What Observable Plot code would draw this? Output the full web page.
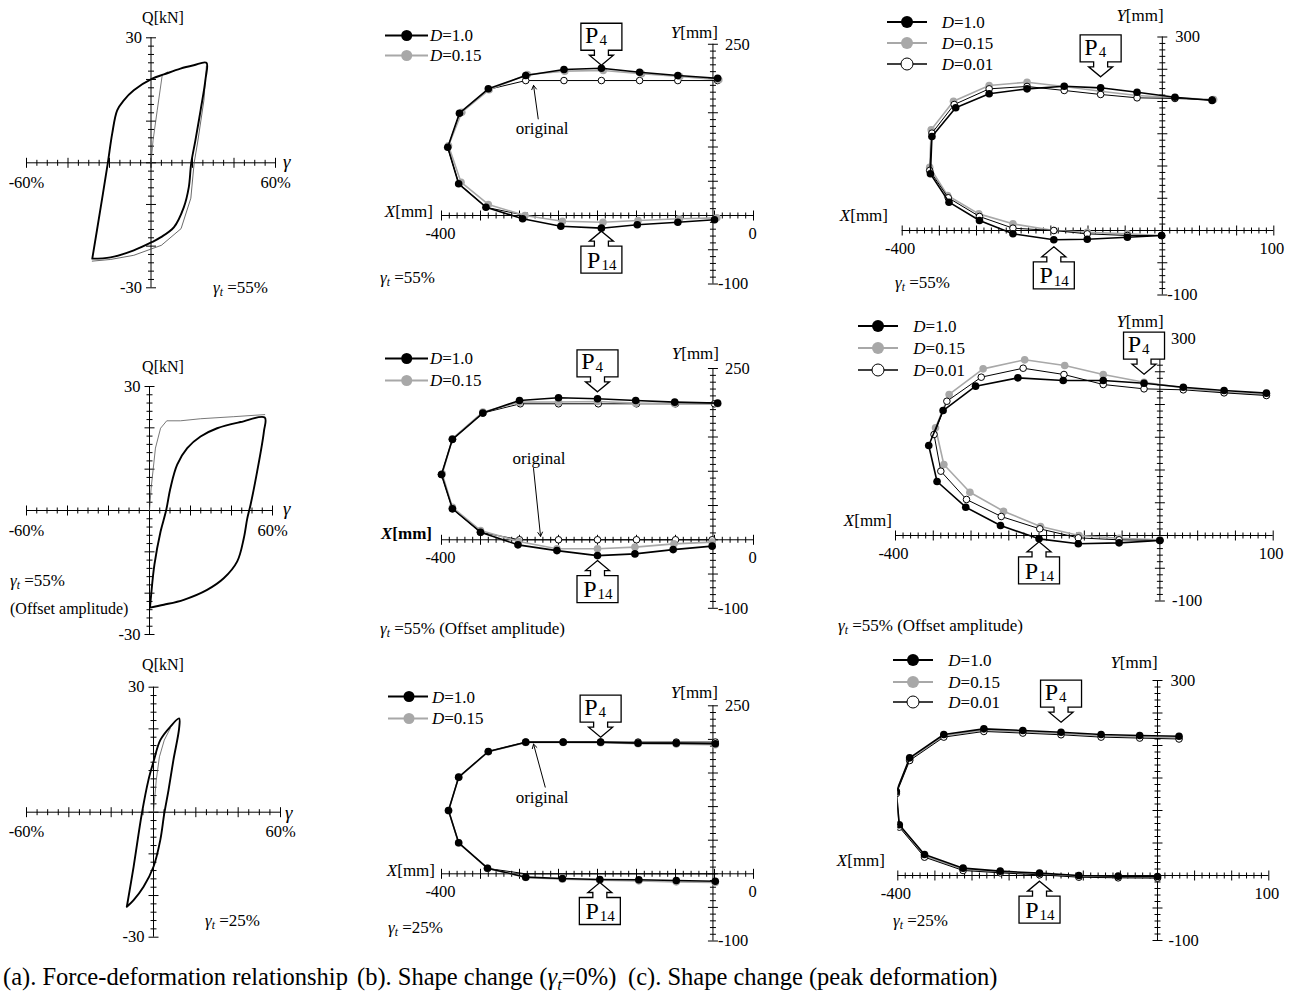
<!DOCTYPE html>
<html><head><meta charset="utf-8">
<script src="https://cdn.jsdelivr.net/npm/d3@7"></script>
<script src="https://cdn.jsdelivr.net/npm/@observablehq/plot@0.6"></script>
<style>
body{margin:0;background:#fff;}
#fig{position:relative;width:1293px;height:998px;font-family:"Liberation Serif","Times New Roman",serif;color:#000;overflow:hidden;background:#fff;}
#fig > svg.plotsvg{position:absolute;left:0;top:0;}
.lab{position:absolute;white-space:nowrap;font-size:16px;line-height:1;}
.lab sub{font-size:0.68em;vertical-align:-0.3em;line-height:0;}
</style></head><body><div id="fig"></div>
<script>
// ---------------- DATA ----------------
// (a) force-deformation loops: [shear strain %, Q kN]
const a1Loop = [[-28.3,-23.0],[-24.5,-11.5],[-20.8,0],[-18.7,7.0],[-16.3,12.6],[-13.1,15.0],[-8.3,17.4],[0.6,20.2],[6.2,21.2],[14.2,22.6],[20.6,23.4],[26.7,24.0],[26.3,20.2],[23.9,12.6],[21.4,5.4],[19.4,0],[18.2,-5.9],[15.8,-10.7],[11.0,-15.5],[4.6,-17.9],[0.6,-19.0],[-8.3,-21.0],[-19.5,-22.7],[-28.3,-23.0]];
const a1Thin = [[26.7,23.2],[25.5,15],[22.5,5],[20.8,0],[19.2,-8.5],[14.5,-15.8],[5,-19.8],[-8.3,-22.2],[-19.5,-23.2],[-28.3,-23.6]];
const a1Init = [[0,0],[1.0,5.4],[3.0,12.6],[5.4,21.0],[8,21.8]];
const a2Loop = [[0.3,-23.2],[0.8,-20.4],[2.4,-13.1],[5.4,-5.1],[8.1,0],[10.2,5.4],[13.5,11.1],[18.4,15.1],[24.9,17.9],[33.0,19.9],[44.4,21.4],[56.2,22.5],[55.8,19.1],[52.5,9.4],[49.3,1.4],[47.7,-1.9],[46.0,-6.7],[42.8,-12.3],[36.2,-16.4],[28.1,-19.2],[16.7,-21.6],[7.0,-22.8],[0.3,-23.5]];
const a2Init = [[0,0],[0.8,5.4],[2.9,15.1],[5.4,19.9],[8.4,21.7],[15.1,21.7],[24.9,22.2],[41.1,22.7],[56.2,23.2]];
const a3Loop = [[-12.6,-22.7],[-9.4,-13.1],[-5.5,-0.3],[-2.4,7.7],[0,12.1],[3.2,17.3],[7.9,20.5],[12.1,22.5],[12.1,20.1],[9.4,12.5],[7.1,5.3],[5.1,-0.3],[3.2,-6.7],[0,-13.1],[-4.7,-17.9],[-9.4,-21.1],[-12.6,-22.7]];
const a3Init = [[0,0],[1.3,7.7],[2.8,13.3],[5.1,17.3],[7.9,20.1]];

// (b) shape at gamma=0: nodes P1..P17 [X mm, Y mm]
const b1Orig = [[-46,197],[-97,197],[-146,197],[-195,197],[-243,197],[-292,197],[-340,184],[-377,148],[-392,99],[-378,47],[-343,12],[-292,0],[-243,0],[-195,0],[-146,0],[-97,0],[-46,0]];
const b1D015 = [[-44.5,198.1],[-94.5,202.9],[-143.6,206.9],[-192.7,211.7],[-242,210.7],[-290,205.8],[-339,183.5],[-374,150.8],[-391,101.8],[-375,48.6],[-340,16.1],[-293,0],[-245,-8.3],[-193,-9.8],[-148,-7.3],[-95,-4.8],[-47,-3.4]];
const b1D10 = [[-46,200.4],[-97,204.4],[-146,209.2],[-195,215],[-243,213.1],[-292,204.4],[-340,185],[-377,149.3],[-392,99.7],[-378,46.3],[-343,12.1],[-296,-4.8],[-247,-15.6],[-195,-18.5],[-149,-13.6],[-97,-9.8],[-50,-6.3]];
const b2Orig = [[-50,198.5],[-100,198.5],[-150,198.5],[-199,198.5],[-250,198.5],[-299,198.5],[-347,185],[-386,146.6],[-400,95.3],[-386,45.3],[-350,11.1],[-300,0],[-250,0],[-200,0],[-150,0],[-100,0],[-53,0]];
const b2D015 = [[-46,198.5],[-101,198.5],[-151,199.4],[-200,201.9],[-250,201],[-300,200.9],[-347,186.3],[-386,147.5],[-399,96.3],[-386,47.3],[-350,13.6],[-301,-2.4],[-252,-13.1],[-200,-13.1],[-152,-10.7],[-102,-5.9],[-53,-3.4]];
const b2D10 = [[-46,199.4],[-101,200.9],[-151,203.4],[-200,205.8],[-250,207.3],[-300,203.4],[-347,185],[-386,146.6],[-400,95.3],[-386,45.3],[-350,11.1],[-302,-7.4],[-252,-15.8],[-200,-23.1],[-152,-20.6],[-103,-14.3],[-53,-9.3]];
const b3Orig = [[-49,196],[-99,196],[-148,196],[-196,196],[-244,196],[-292,196],[-340,182],[-378,144],[-391,94],[-378,46],[-341,8],[-292,0],[-245,0],[-197,0],[-147,0],[-99,0],[-49,0]];
const b3D015 = [[-49,192],[-99,193],[-148,193.5],[-196,195],[-244,195.5],[-292,195.5],[-340,181.5],[-378,143.5],[-391,94],[-378,46],[-341,8],[-292,-5.5],[-245,-8],[-197,-9.5],[-147,-10.5],[-99,-12],[-49,-13]];
const b3D10 = [[-49,193.5],[-99,194.4],[-148,194.4],[-196,195.9],[-244,195.9],[-292,195.9],[-340,182],[-378,143.8],[-391,94.2],[-378,46.1],[-341,8.3],[-292,-5],[-245,-6.9],[-197,-8.5],[-147,-8.9],[-99,-10],[-49,-11]];

// (c) shape at peak deformation
const c1D10 = [[17,201.6],[-33,206.7],[-84,214.4],[-133,221.2],[-182,223.7],[-232,219.6],[-283,211.9],[-328,190.2],[-360,145.7],[-362,87.9],[-337,43.9],[-296,15.5],[-251,-5.1],[-196,-14.4],[-151,-13.5],[-97,-10.4],[-51,-7.8]];
const c1D015 = [[19,203.1],[-33,205.7],[-84,209.3],[-133,216],[-182,223.3],[-232,229.9],[-283,224.8],[-331,200.5],[-361,156.1],[-363,98.1],[-339,54.3],[-297,25.8],[-251,10.3],[-196,0],[-151,-2.6],[-97,-5.2],[-51,-7.8]];
const c1D001 = [[17,202.6],[-33,204.7],[-84,205.7],[-133,210.9],[-182,217.1],[-232,223.3],[-283,219.6],[-330,195.3],[-360,150.9],[-363,93],[-338,50.7],[-296,21.7],[-251,3.6],[-196,0],[-151,-5.2],[-97,-7.8],[-51,-7.8]];
const c2D10 = [[91,217.3],[35,221.4],[-19,226.4],[-71,232.5],[-125,236.6],[-178,236.6],[-238,240.7],[-294,228],[-337,190.8],[-356,137.4],[-345,82.4],[-307,43.2],[-261,15.3],[-210,-5.1],[-158,-12.7],[-104,-11.2],[-50,-7.6]];
const c2D015 = [[91,214.8],[35,218.8],[-19,225.4],[-71,234],[-125,245.8],[-176,259.5],[-229,268.2],[-284,254.4],[-329,215.3],[-347,164.4],[-336,108.4],[-301.5,66.1],[-257,37.1],[-208,13.7],[-157,0],[-104,-4.1],[-50,-6.6]];
const c2D001 = [[91,213.7],[35,217.8],[-19,222.4],[-71,223.9],[-125,230.5],[-177,245.8],[-231,255.4],[-286.5,241.7],[-332,205],[-349,154.2],[-340,98.2],[-306,55],[-260,29],[-209,10.2],[-158,-3.6],[-104,-6.6],[-50,-7.6]];
const c3D10 = [[-21,214.3],[-74,215.4],[-126,216.9],[-180,220.5],[-231.5,223.1],[-284,225.6],[-338,216.9],[-384,181],[-402,129.2],[-398,78],[-364,32.3],[-312,11.3],[-262,6.7],[-209,3.6],[-156,0],[-103,-1],[-50,-1.5]];
const c3D015 = [[-21,212],[-74,213.4],[-126,215],[-180,218.5],[-231.5,221],[-284,223.6],[-338,215],[-384,179],[-402,127.5],[-398,76],[-364,30],[-312,9.5],[-262,5.4],[-209,2.3],[-156,-1.3],[-103,-2.3],[-50,-2.8]];
const c3D001 = [[-21,210],[-74,211.4],[-126,212.9],[-180,216.5],[-231.5,219.1],[-284,221.6],[-338,212.9],[-384,176.9],[-402,126],[-398,74.4],[-364,28.2],[-312,7.7],[-262,4.1],[-209,1],[-156,-2.6],[-103,-3.6],[-50,-4.1]];

// tick labels
const aXLabels = [-60, 60];
const aYLabels = [-30, 30];
const bXLabels = [-400, 0];
const bYLabels = [-100, 250];
const cXLabels = [-400, 100];
const cYLabels = [-100, 300];

// ---------------- DRAWING ----------------
const W = 1293, H = 998;
const fig = document.getElementById("fig");
const FONT = "Liberation Serif, Times New Roman, serif";
const GRAY = "#a8a8a8";
const X = d => d[0], Y = d => d[1];

function lab(x, y, html, anchor = "start", size = 16, extra = "") {
  const d = document.createElement("div");
  d.className = "lab";
  d.innerHTML = html;
  d.style.left = x + "px"; d.style.top = y + "px";
  d.style.fontSize = size + "px";
  const tx = anchor === "start" ? "0" : anchor === "middle" ? "-50%" : "-100%";
  d.style.transform = `translate(${tx}, -50%)`;
  if (extra) d.style.cssText += extra;
  fig.appendChild(d);
}
const vtick = L => ({draw(c) { c.moveTo(0, -L); c.lineTo(0, L); }});
const htick = L => ({draw(c) { c.moveTo(-L, 0); c.lineTo(L, 0); }});
const calloutDown = {draw(c) {
  c.moveTo(0, 0); c.lineTo(12, -10); c.lineTo(7, -10); c.lineTo(7, -15); c.lineTo(20.5, -15); c.lineTo(20.5, -42);
  c.lineTo(-20.5, -42); c.lineTo(-20.5, -15); c.lineTo(-7, -15); c.lineTo(-7, -10); c.lineTo(-12, -10); c.closePath();
}};
const calloutUp = {draw(c) {
  c.moveTo(0, 0); c.lineTo(12, 10); c.lineTo(7, 10); c.lineTo(7, 15); c.lineTo(20.5, 15); c.lineTo(20.5, 42);
  c.lineTo(-20.5, 42); c.lineTo(-20.5, 15); c.lineTo(-7, 15); c.lineTo(-7, 10); c.lineTo(-12, 10); c.closePath();
}};

function panel(f, marks) {
  const svg = Plot.plot({
    width: W, height: H,
    marginLeft: f.x[0], marginRight: W - f.x[1], marginTop: f.y[0], marginBottom: H - f.y[1],
    x: {domain: f.xd, axis: null}, y: {domain: f.yd, axis: null},
    style: {background: "transparent", overflow: "visible", fontFamily: FONT, fontSize: "16px", color: "black"},
    marks
  });
  svg.classList.add("plotsvg");
  fig.appendChild(svg);
}
function axes(f, ax, xStep, xMaj, yStep, yMaj) {
  const xt = d3.range(f.xd[0], f.xd[1] + xStep / 2, xStep);
  const yt = d3.range(f.yd[0], f.yd[1] + yStep / 2, yStep);
  const isM = (v, m) => Math.abs(v % m) < 1e-6;
  const tk = {stroke: "black", fill: "none", strokeWidth: 1};
  return [
    Plot.ruleY([0], {x1: f.xd[0], x2: f.xd[1], stroke: "black", strokeWidth: 1}),
    Plot.ruleX([ax], {y1: f.yd[0], y2: f.yd[1], stroke: "black", strokeWidth: 1}),
    Plot.dot(xt.filter(v => !isM(v, xMaj)), {x: d => d, y: () => 0, symbol: vtick(3), ...tk}),
    Plot.dot(xt.filter(v => isM(v, xMaj)), {x: d => d, y: () => 0, symbol: vtick(5), ...tk}),
    Plot.dot(yt.filter(v => !isM(v, yMaj)), {x: () => ax, y: d => d, symbol: htick(3), ...tk}),
    Plot.dot(yt.filter(v => isM(v, yMaj)), {x: () => ax, y: d => d, symbol: htick(5), ...tk})
  ];
}
function series(data, kind, clip = false, dotsFrom = 0, dotsTo = Infinity) {
  const dots = data.slice(dotsFrom, dotsTo);
  if (kind === "k") return [
    Plot.line(data, {x: X, y: Y, stroke: "black", strokeWidth: 1.6, clip}),
    Plot.dot(dots, {x: X, y: Y, r: 3.8, fill: "black", clip})];
  if (kind === "g") return [
    Plot.line(data, {x: X, y: Y, stroke: GRAY, strokeWidth: 1.6, clip}),
    Plot.dot(dots, {x: X, y: Y, r: 3.8, fill: GRAY, clip})];
  return [
    Plot.line(data, {x: X, y: Y, stroke: "black", strokeWidth: 1, clip}),
    Plot.dot(dots, {x: X, y: Y, r: 3.3, fill: "white", stroke: "black", strokeWidth: 1, clip})];
}
function callouts(k, g4, g14) {
  const p4 = [k[3]], p14 = [k[13]];
  const sh = {fill: "white", stroke: "black", strokeWidth: 1.3};
  return [
    Plot.dot(p4, {x: X, y: Y, dy: -g4, symbol: calloutDown, ...sh}),
    Plot.text(p4, {x: X, y: Y, dy: -g4 - 30, dx: -3, text: () => "P", textAnchor: "end", fontSize: 24}),
    Plot.text(p4, {x: X, y: Y, dy: -g4 - 25, dx: -2, text: () => "4", textAnchor: "start", fontSize: 15}),
    Plot.dot(p14, {x: X, y: Y, dy: g14, symbol: calloutUp, ...sh}),
    Plot.text(p14, {x: X, y: Y, dy: g14 + 29, dx: -1, text: () => "P", textAnchor: "end", fontSize: 24}),
    Plot.text(p14, {x: X, y: Y, dy: g14 + 34, dx: 0, text: () => "14", textAnchor: "start", fontSize: 15})
  ];
}
function original(t, a) {
  return [
    Plot.text([t], {x: X, y: Y, text: () => "original", fontSize: 17}),
    Plot.arrow([a], {x1: d => d[0], y1: d => d[1], x2: d => d[2], y2: d => d[3], stroke: "black", strokeWidth: 1, headLength: 7})
  ];
}

// ---- (a) panels ----
const aFrames = [
  {x: [26, 275], y: [37.3, 287.3], xd: [-60, 60], yd: [-30, 30]},
  {x: [26, 272], y: [386, 634], xd: [-60, 60], yd: [-30, 30]},
  {x: [26, 280], y: [686.7, 936.7], xd: [-60, 60], yd: [-30, 30]}
];
const aData = [[a1Loop, a1Thin, a1Init], [a2Loop, null, a2Init], [a3Loop, null, a3Init]];
aFrames.forEach((f, i) => {
  const [loop, thin, init] = aData[i];
  panel(f, [
    ...axes(f, 0, 5, 20, 2, 10),
    Plot.line(init, {x: X, y: Y, stroke: "#555", strokeWidth: 0.8}),
    thin ? Plot.line(thin, {x: X, y: Y, stroke: "#444", strokeWidth: 0.8}) : null,
    Plot.line(loop, {x: X, y: Y, stroke: "black", strokeWidth: 1.9, curve: "catmull-rom"}),
    Plot.text(aXLabels, {x: d => d, y: () => 0, text: d => d + "%", dy: 20, fontSize: 16.5}),
    Plot.text(aYLabels, {x: () => 0, y: d => d, text: d => String(d), textAnchor: "end", dx: -9, fontSize: 16.5})
  ]);
});
const gt = v => `<i>γ</i><sub><i>t</i></sub> =${v}%`;
lab(163, 18, "Q[kN]", "middle");
lab(283, 161, "<i>γ</i>", "start", 19);
lab(213, 287, gt(55), "start", 17);
lab(163, 367, "Q[kN]", "middle");
lab(283, 508, "<i>γ</i>", "start", 19);
lab(10, 580, gt(55), "start", 17);
lab(10, 609, "(Offset amplitude)", "start", 16);
lab(163, 665, "Q[kN]", "middle");
lab(285, 812, "<i>γ</i>", "start", 19);
lab(205, 920, gt(25), "start", 17);

// ---- (b) panels ----
const bFrames = [
  {x: [441, 753], y: [43.75, 283.5], xd: [-400, 0], yd: [-100, 250]},
  {x: [441, 753], y: [368, 607.8], xd: [-400, 0], yd: [-100, 250]},
  {x: [441, 753], y: [705.3, 940.5], xd: [-400, 0], yd: [-100, 250]}
];
const bData = [[b1Orig, b1D015, b1D10], [b2Orig, b2D015, b2D10], [b3Orig, b3D015, b3D10]];
const bOrigDots = [[0, 6], [0, 17], [0, 6]];
const bGaps = [[3, 3], [7, 5], [5, 3]];
const bOrigNote = [
  [[-271, 127], [-276, 141, -282, 190]],
  [[-275, 118], [-282, 104, -273, 5]],
  [[-271, 114], [-267, 129, -282, 193]]
];
bFrames.forEach((f, i) => {
  const [o, g, k] = bData[i];
  panel(f, [
    ...axes(f, -52, 10, 50, 10, 50),
    ...series(o, "w", false, ...bOrigDots[i]), ...series(g, "g"), ...series(k, "k"),
    ...original(...bOrigNote[i]),
    ...callouts(k, ...bGaps[i]),
    Plot.text(bXLabels, {x: d => d, y: () => 0, text: d => String(d), dy: 18, dx: -1, fontSize: 16.5}),
    Plot.text(bYLabels.filter(d => d > 0), {x: () => -52, y: d => d, text: d => String(d), textAnchor: "start", dx: 12, fontSize: 16.5}),
    Plot.text(bYLabels.filter(d => d < 0), {x: () => -52, y: d => d, text: d => String(d), textAnchor: "start", dx: 5, fontSize: 16.5})
  ]);
});

// ---- (c) panels ----
const cFrames = [
  {x: [901.7, 1273.3], y: [36.5, 294.5], xd: [-400, 100], yd: [-100, 300]},
  {x: [895, 1272.7], y: [338.5, 600.5], xd: [-400, 100], yd: [-100, 300]},
  {x: [897.3, 1268.3], y: [680, 940], xd: [-400, 100], yd: [-100, 300]}
];
const cData = [[c1D015, c1D001, c1D10], [c2D015, c2D001, c2D10], [c3D015, c3D001, c3D10]];
const cGaps = [[11, 7], [9, 3], [10, 8]];
const cYdx = [[13, 5], [11, 12], [13, 11]];
cFrames.forEach((f, i) => {
  const [g, w, k] = cData[i];
  const clip = i === 2;
  panel(f, [
    ...axes(f, -50, 10, 50, 10, 50),
    ...series(g, "g", clip), ...series(w, "w", clip), ...series(k, "k", clip),
    ...callouts(k, ...cGaps[i]),
    Plot.text(cXLabels, {x: d => d, y: () => 0, text: d => String(d), dy: 18, dx: -2, fontSize: 16.5}),
    Plot.text(cYLabels.filter(d => d > 0), {x: () => -50, y: d => d, text: d => String(d), textAnchor: "start", dx: cYdx[i][0], fontSize: 16.5}),
    Plot.text(cYLabels.filter(d => d < 0), {x: () => -50, y: d => d, text: d => String(d), textAnchor: "start", dx: cYdx[i][1], fontSize: 16.5})
  ]);
});

// ---- axis titles & notes ----
const ymm = "<i>Y</i>[mm]", xmm = "<i>X</i>[mm]";
lab(718, 32, ymm, "end", 17); lab(433, 211, xmm, "end", 17); lab(380, 277, gt(55), "start", 17);
lab(719, 353, ymm, "end", 17); lab(432, 533, "<b><i>X</i>[mm]</b>", "end", 17); lab(380, 628, gt(55) + " (Offset amplitude)", "start", 17);
lab(718, 692, ymm, "end", 17); lab(435, 870, xmm, "end", 17); lab(388, 927, gt(25), "start", 17);
lab(1140, 15, ymm, "middle", 17); lab(888, 215, xmm, "end", 17); lab(895, 282, gt(55), "start", 17);
lab(1140, 321, ymm, "middle", 17); lab(892, 520, xmm, "end", 17); lab(838, 625, gt(55) + " (Offset amplitude)", "start", 17);
lab(1134, 662, ymm, "middle", 17); lab(885, 860, xmm, "end", 17); lab(893, 920, gt(25), "start", 17);

// ---- legends ----
const NS = "http://www.w3.org/2000/svg";
function legend(x1, x2, cx, tx, rows, r) {
  const styles = [
    {line: "black", lw: 2.2, fill: "black", stroke: "none", text: "<i>D</i>=1.0"},
    {line: GRAY, lw: 2.2, fill: GRAY, stroke: "none", text: "<i>D</i>=0.15"},
    {line: "black", lw: 1.6, fill: "white", stroke: "black", text: "<i>D</i>=0.01"}
  ];
  rows.forEach((y, j) => {
    const s = styles[j];
    const svg = document.createElementNS(NS, "svg");
    svg.setAttribute("width", x2 - x1 + 4); svg.setAttribute("height", 2 * r + 4);
    svg.style.cssText = `position:absolute;left:${x1 - 2}px;top:${y - r - 2}px;overflow:visible`;
    svg.innerHTML = `<line x1="2" x2="${x2 - x1 + 2}" y1="${r + 2}" y2="${r + 2}" stroke="${s.line}" stroke-width="${s.lw}"/>` +
      `<circle cx="${cx - x1 + 2}" cy="${r + 2}" r="${r}" fill="${s.fill}" stroke="${s.stroke}" stroke-width="1"/>`;
    fig.appendChild(svg);
    lab(tx, y, s.text, "start", 17);
  });
}
legend(385, 428, 406.7, 430, [35, 55], 5.5);
legend(385, 428, 406.7, 430, [358.3, 380], 5.5);
legend(388, 428, 409, 432, [696.7, 718.3], 5.5);
legend(886.7, 926.7, 906.7, 941.7, [21.7, 43.3, 64], 6);
legend(858.3, 898.3, 878.3, 913.3, [326, 348.3, 370], 6);
legend(893.3, 933.3, 913.3, 948.3, [660, 681.7, 701.7], 6);

// ---- caption ----
lab(3, 977, "(a). Force-deformation relationship", "start", 24.5);
lab(357, 977, "(b). Shape change (<i>γ<sub>t</sub></i>=0%)", "start", 24.5);
lab(628, 977, "(c). Shape change (peak deformation)", "start", 24.5);
</script></body></html>
